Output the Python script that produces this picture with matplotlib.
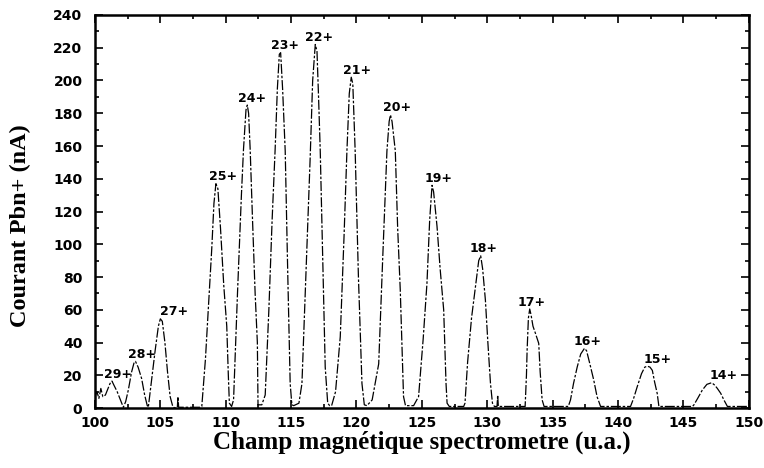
import numpy as np
import matplotlib
matplotlib.use('Agg')
import matplotlib.pyplot as plt
from matplotlib.ticker import MultipleLocator

# Trace (champ, courant)
trace_x = [100.0, 100.15, 100.3, 100.45, 100.6, 100.8, 101.0, 101.15, 101.3, 101.45, 101.7, 101.9, 102.17,
           102.35, 102.55, 102.8, 103.0, 103.1, 103.3, 103.57, 103.8, 104.0, 104.08,
           104.3, 104.6, 104.85, 105.0, 105.15, 105.35, 105.55, 105.75, 105.95, 106.1,
           106.3, 106.35, 106.4, 107.0, 108.0,
           108.17, 108.45, 108.7, 108.93, 109.1, 109.25, 109.4, 109.6, 109.85, 110.08, 110.2, 110.28, 110.45,
           110.6, 110.9, 111.2, 111.36, 111.55, 111.65, 111.75, 111.87, 112.05, 112.25, 112.42, 112.47, 112.76,
           113.02, 113.3, 113.55, 113.78, 113.95, 114.1, 114.2, 114.35, 114.55, 114.75, 114.93, 115.06,
           115.2, 115.6, 115.83, 116.15, 116.46, 116.65, 116.85, 116.98, 117.1, 117.23, 117.45, 117.61, 117.8, 117.95,
           118.1, 118.4, 118.76, 119.05, 119.27, 119.45, 119.6, 119.72, 119.9, 120.15, 120.42, 120.6, 120.8,
           121.2, 121.7, 122.0, 122.33, 122.5, 122.6, 122.72, 122.97, 123.15, 123.35, 123.6, 123.75, 124.37,
           124.75, 125.1, 125.39, 125.6, 125.78, 125.9, 126.16, 126.4, 126.67, 126.85, 126.93, 127.1, 128.2,
           128.3, 128.5, 128.8, 129.1, 129.35, 129.5, 129.65, 129.86, 130.05, 130.25, 130.4, 130.55,
           130.75, 130.8, 130.85, 132.9,
           133.0, 133.05, 133.15, 133.25, 133.35, 133.5, 133.69, 133.94, 134.05, 134.2, 134.35, 136.2,
           136.37, 136.6, 136.88, 137.15, 137.44, 137.6, 137.85, 138.15, 138.4, 138.67, 140.9,
           140.96, 141.2, 141.47, 141.8, 142.05, 142.25, 142.45, 142.63, 142.8, 143.0, 143.13, 145.7,
           145.81, 146.1, 146.45, 146.8, 147.17, 147.4, 147.6, 147.86, 148.1, 148.37, 150.0]
trace_y = [7, 10, 6, 12, 7, 8, 12, 15, 16.5, 14, 10, 6, 0.5,
           4, 11, 22, 28, 28.5, 25, 18, 8, 1.5, 0.5,
           15, 35, 50, 54.5, 53, 40, 22, 7, 1, 0,
           0.5, 7, 0.5, 0.5, 0.5,
           1, 30, 65, 97, 125, 137, 134, 110, 75, 50, 20, 3, 1,
           5, 70, 130, 158, 182, 185, 180, 158, 115, 70, 40, 2, 2,
           8, 60, 115, 158, 195, 216, 217, 195, 157, 80, 15, 2,
           1.5, 3, 15, 85, 153, 200, 222, 218, 190, 157, 80, 25, 3, 1.5,
           1.5, 10, 43.5, 105, 157, 192, 202, 198, 157, 80, 15, 2, 1.5,
           5, 27, 90, 157, 175, 179, 175, 157, 110, 72, 7, 1.5, 1.5,
           7, 42, 76, 115, 136, 132, 111, 85, 60, 15, 3, 1, 1,
           3, 28, 55, 74, 90, 93, 85, 66, 40, 15, 3, 1,
           1, 8, 1, 1,
           20, 35, 55, 60.5, 57, 50, 45.6, 39.5, 22, 5, 1, 1,
           5, 15, 25, 33, 36.5, 35, 27, 17, 7, 1, 1,
           1, 6, 13, 21, 25, 25.6, 25, 23, 16, 9, 1, 1,
           2, 6, 11, 14.5, 15.5, 14, 12, 9, 5, 1, 1]

# Charge states and their peak tops
ions = ['29+', '28+', '27+', '25+', '24+', '23+', '22+', '21+', '20+', '19+', '18+', '17+', '16+', '15+', '14+']
peak_x = [101.3, 103.06, 105.0, 109.25, 111.65, 114.15, 116.85, 119.6, 122.6, 125.78, 129.5, 133.25, 137.44, 142.25, 147.17]
peak_y = [16.5, 28.5, 54.5, 137, 185, 217, 222, 202, 179, 136, 93, 60.5, 36.5, 25.6, 15.5]

# horizontal label offsets (pixels)
label_dx = [6, 7, 14, 7, 5, 5, 4, 6, 7, 7, 3, 2, 3, 10, 12]

fig = plt.figure(figsize=(7.64, 4.68), dpi=100)
ax = fig.add_axes([0.1243, 0.128, 0.8557, 0.840])

ax.plot(trace_x, trace_y, color='black', lw=0.9, linestyle=(0, (8, 1.5, 2, 1.5)))

for name, px, py, dx in zip(ions, peak_x, peak_y, label_dx):
    ax.annotate(name, xy=(px, py), xytext=(dx * 0.72, 2.5), textcoords='offset points',
                ha='center', va='baseline', fontsize=9, fontweight='bold', family='DejaVu Sans')

ax.set_xlim(100, 150)
ax.set_ylim(0, 240)
ax.xaxis.set_major_locator(MultipleLocator(5))
ax.xaxis.set_minor_locator(MultipleLocator(2.5))
ax.yaxis.set_major_locator(MultipleLocator(20))
ax.yaxis.set_minor_locator(MultipleLocator(10))
ax.tick_params(which='both', direction='in', top=True, right=True, width=1.2)
ax.tick_params(which='major', length=6)
ax.tick_params(which='minor', length=3)
ax.tick_params(axis='x', pad=6)
ax.tick_params(axis='y', pad=9)
for lab in ax.get_xticklabels() + ax.get_yticklabels():
    lab.set_fontweight('bold')
    lab.set_fontsize(10)
    lab.set_family('DejaVu Sans')
for s in ax.spines.values():
    s.set_linewidth(1.8)

ax.set_xlabel('Champ magnétique spectrometre (u.a.)', family='Liberation Serif',
              fontweight='bold', fontsize=18, labelpad=0)
ax.set_ylabel('Courant Pbn+ (nA)', family='Liberation Serif',
              fontweight='bold', fontsize=17.5, labelpad=4)
ax.yaxis.set_label_coords(-0.098, 0.465)

fig.savefig('out.png', dpi=100)
